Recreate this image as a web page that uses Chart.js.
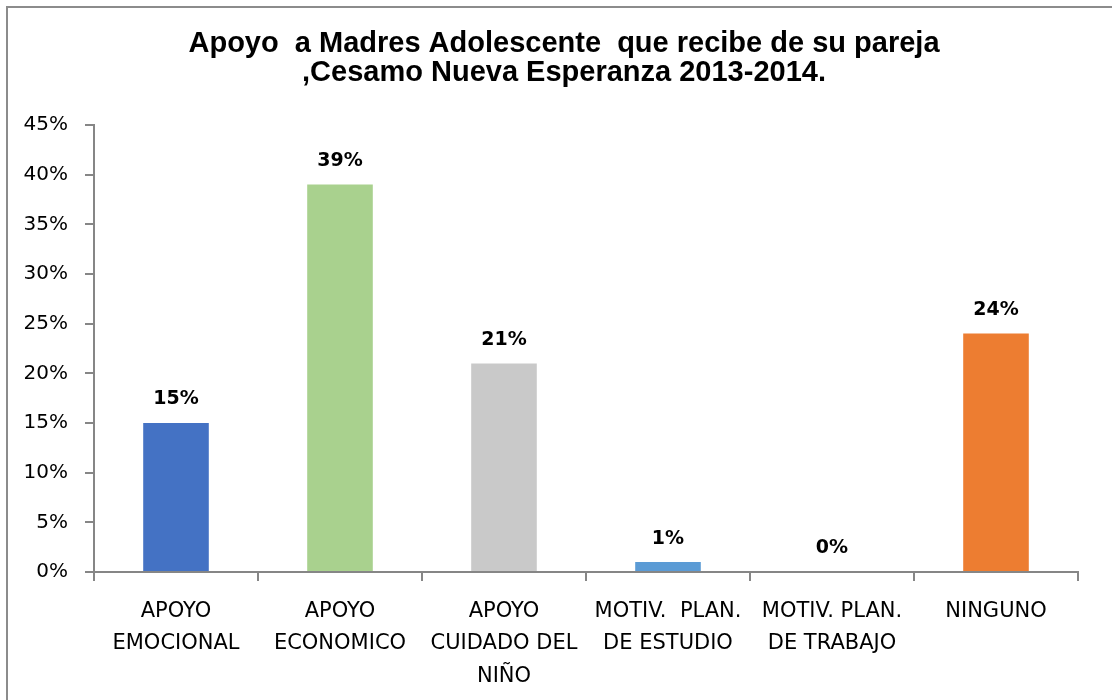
<!DOCTYPE html>
<html>
<head>
<meta charset="utf-8">
<script src="https://cdn.jsdelivr.net/npm/chart.js@4"></script>
<style>
  html, body { margin: 0; padding: 0; background: #fff; overflow: hidden; }
  #frame { position: absolute; left: 6px; top: 6px; width: 1200px; height: 800px; border: 2px solid #8c8c8c; }
  /* a little wider than the window so the title centre lands where the original has it */
  #wrap { position: absolute; left: 0; top: 0; width: 1128px; height: 700px; }
</style>
</head>
<body>
<div id="frame"></div>
<div id="wrap"><canvas id="supportChart"></canvas></div>
<script>
const categories = [
  ["APOYO", "EMOCIONAL"],
  ["APOYO", "ECONOMICO"],
  ["APOYO", "CUIDADO DEL", "NIÑO"],
  ["MOTIV.  PLAN.", "DE ESTUDIO"],
  ["MOTIV. PLAN.", "DE TRABAJO"],
  ["NINGUNO"]
];
const percentages = [15, 39, 21, 1, 0, 24];
const barColors = ["#4472C4", "#A9D18E", "#C9C9C9", "#5B9BD5", "#FFC000", "#ED7D31"];
const titleLines = [
  "Apoyo  a Madres Adolescente  que recibe de su pareja",
  ",Cesamo Nueva Esperanza 2013-2014."
];

const axisGray = "#868686";

// draws the % value above each bar
const valueLabels = {
  id: "valueLabels",
  afterDatasetsDraw(chart) {
    const ctx = chart.ctx;
    const meta = chart.getDatasetMeta(0);
    ctx.save();
    ctx.font = "bold 19px 'DejaVu Sans'";
    ctx.fillStyle = "#000";
    ctx.textAlign = "center";
    ctx.textBaseline = "bottom";
    meta.data.forEach((bar, i) => {
      ctx.fillText(percentages[i] + "%", bar.x, bar.y - 14);
    });
    ctx.restore();
  }
};

const ctx = document.getElementById("supportChart").getContext("2d");

const supportChart = new Chart(ctx, {
  type: "bar",
  data: {
    labels: categories,
    datasets: [
      {
        data: percentages,
        backgroundColor: barColors,
        borderWidth: 0,
        barPercentage: 0.4,
        categoryPercentage: 1
      }
    ]
  },
  options: {
    responsive: true,
    maintainAspectRatio: false,
    animation: false,
    layout: {
      padding: 0
    },
    scales: {
      x: {
        grid: {
          offset: true,
          drawOnChartArea: false,
          color: axisGray,
          tickLength: 9,
          lineWidth: 2
        },
        border: { color: axisGray, width: 2 },
        ticks: {
          color: "#000",
          font: { family: "'DejaVu Sans'", size: 21, lineHeight: 1.55 },
          padding: 14,
          maxRotation: 0,
          autoSkip: false
        },
        afterFit(scale) { scale.height = 128; }
      },
      y: {
        min: 0,
        max: 45,
        grid: {
          drawOnChartArea: false,
          color: axisGray,
          tickLength: 9,
          lineWidth: 2
        },
        border: { color: axisGray, width: 2 },
        ticks: {
          stepSize: 5,
          color: "#000",
          font: { family: "'DejaVu Sans'", size: 20 },
          padding: 17,
          callback: v => v + "%"
        },
        afterFit(scale) { scale.width = 94; }
      },
      // empty right-hand spacer so the plot ends where the original does
      spacer: {
        type: "linear",
        position: "right",
        grid: { display: false },
        border: { display: false },
        ticks: { display: false },
        afterFit(scale) { scale.width = 50; }
      }
    },
    plugins: {
      legend: { display: false },
      tooltip: { enabled: false },
      title: {
        display: true,
        text: titleLines,
        color: "#000",
        font: { family: "'Liberation Sans'", size: 29, weight: "bold", lineHeight: 1.0 },
        padding: { top: 29, bottom: 38 }
      }
    }
  },
  plugins: [valueLabels]
});
</script>
</body>
</html>
